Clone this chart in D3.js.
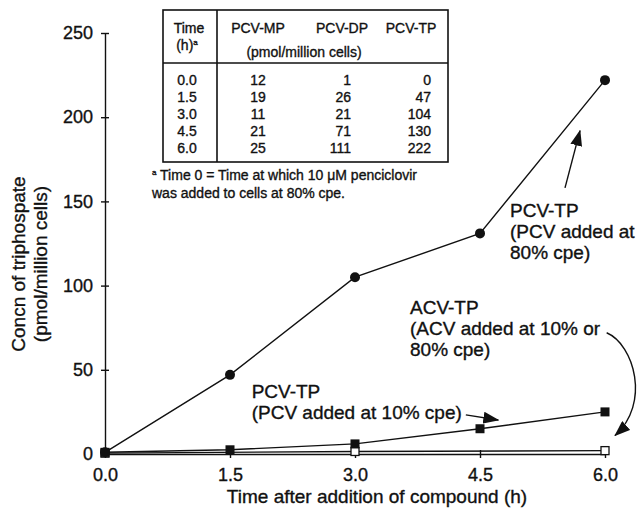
<!DOCTYPE html>
<head>
    <meta charset="utf-8">
    <title>Triphosphate concentration</title>
    <style>
      body { margin: 0; background: #fff; }
      text { font-family: "Liberation Sans", Arial, sans-serif; fill: #111; stroke: #111; stroke-width: 0.35px; }
    </style>
</head>

<script src="https://d3js.org/d3.v7.min.js"></script>

<div id="my_dataviz"></div>

<script>

    // values
    var times = [0, 1.5, 3.0, 4.5, 6.0];
    var pcvTp80 = [1, 47, 105, 131, 222];     // PCV added at 80% cpe (circles)
    var pcvTp10 = [1, 2.5, 6, 15, 25];        // PCV added at 10% cpe (filled squares)
    var acvTimes = [0, 3.0, 6.0];
    var acvTp = [0.5, 1.5, 2];                // ACV (open squares)

    var yTicks = [0, 50, 100, 150, 200, 250];
    var xTicks = [0, 1.5, 3.0, 4.5, 6.0];

    // inset table
    var tableTimes = ["0.0", "1.5", "3.0", "4.5", "6.0"];
    var pcvMP = [12, 19, 11, 21, 25];
    var pcvDP = [1, 26, 21, 71, 111];
    var pcvTP = [0, 47, 104, 130, 222];

    var W = 639, H = 514;

    var svg = d3.select("#my_dataviz")
      .append("svg")
      .attr("width", W)
      .attr("height", H);

    var x = d3.scaleLinear().domain([0, 6]).range([105, 605]);
    var y = d3.scaleLinear().domain([0, 250]).range([454, 33]);

    // arrow head
    svg.append("defs").append("marker")
        .attr("id", "head")
        .attr("viewBox", "0 0 16 12")
        .attr("refX", 15).attr("refY", 6)
        .attr("markerWidth", 16).attr("markerHeight", 12)
        .attr("markerUnits", "userSpaceOnUse")
        .attr("orient", "auto")
      .append("path")
        .attr("d", "M0,0 L16,6 L0,12 Z")
        .attr("fill", "#111");

    // axes
    var yAxis = svg.append("g")
        .attr("transform", "translate(" + x(0) + ",0)")
        .call(d3.axisLeft(y).tickValues(yTicks).tickSizeInner(4).tickSizeOuter(0).tickPadding(8));
    yAxis.selectAll(".tick line").attr("x1", 4);

    var xAxis = svg.append("g")
        .attr("transform", "translate(0," + y(0) + ")")
        .call(d3.axisBottom(x).tickValues(xTicks).tickFormat(d3.format(".1f"))
              .tickSizeInner(4).tickSizeOuter(0).tickPadding(10));
    xAxis.selectAll(".tick line").attr("y1", -4);

    svg.selectAll(".domain, .tick line").attr("stroke", "#111").attr("stroke-width", 1.4);
    svg.selectAll(".tick text").style("font-size", "18px").attr("fill", "#111");

    // axis titles
    svg.append("text")
        .attr("text-anchor", "middle")
        .attr("x", 377).attr("y", 503)
        .style("font-size", "19px")
        .text("Time after addition of compound (h)");

    var yt = svg.append("text")
        .attr("text-anchor", "middle")
        .attr("transform", "translate(25,264) rotate(-90)")
        .style("font-size", "19px");
    yt.append("tspan").attr("x", 0).attr("y", 0).text("Concn of triphospate");
    yt.append("tspan").attr("x", 0).attr("y", 22).text("(pmol/million cells)");

    // lines
    var line = d3.line()
        .x(function (d) { return x(d[0]); })
        .y(function (d) { return y(d[1]); });

    var acvData = d3.zip(acvTimes, acvTp);
    var pcv10Data = d3.zip(times, pcvTp10);
    var pcv80Data = d3.zip(times, pcvTp80);

    [acvData, pcv10Data, pcv80Data].forEach(function (s) {
      svg.append("path")
        .datum(s)
        .attr("d", line)
        .attr("fill", "none")
        .attr("stroke", "#111")
        .attr("stroke-width", 1.4);
    });

    // markers
    svg.append("g").selectAll("rect")
      .data(acvData)
      .enter().append("rect")
        .attr("x", function (d) { return x(d[0]) - 4; })
        .attr("y", function (d) { return y(d[1]) - 4; })
        .attr("width", 8).attr("height", 8)
        .attr("fill", "#fff").attr("stroke", "#111").attr("stroke-width", 1.3);

    svg.append("g").selectAll("rect")
      .data(pcv10Data)
      .enter().append("rect")
        .attr("x", function (d) { return x(d[0]) - 4.5; })
        .attr("y", function (d) { return y(d[1]) - 4.5; })
        .attr("width", 9).attr("height", 9)
        .attr("fill", "#111");

    svg.append("g").selectAll("circle")
      .data(pcv80Data)
      .enter().append("circle")
        .attr("cx", function (d) { return x(d[0]); })
        .attr("cy", function (d) { return y(d[1]); })
        .attr("r", 5)
        .attr("fill", "#111");

    // annotations
    function label(t, v, lines) {
      var el = svg.append("text")
        .attr("x", x(t)).attr("y", y(v))
        .style("font-size", "19px");
      lines.forEach(function (s, i) {
        el.append("tspan").attr("x", x(t)).attr("dy", i ? 21 : 0).text(s);
      });
    }
    label(4.86, 140.5, ["PCV-TP", "(PCV added at", "80% cpe)"]);
    label(3.66, 83, ["ACV-TP", "(ACV added at 10% or", "80% cpe)"]);
    label(1.76, 33, ["PCV-TP", "(PCV added at 10% cpe)"]);

    function arrow(d) {
      svg.append("path")
        .attr("d", d)
        .attr("fill", "none")
        .attr("stroke", "#111")
        .attr("stroke-width", 1.4)
        .attr("marker-end", "url(#head)");
    }
    arrow("M" + x(5.52) + "," + y(158) + "L" + x(5.70) + "," + y(192));
    arrow("M" + x(4.33) + "," + y(23.2) + "L" + x(4.72) + "," + y(20.2));
    arrow("M" + x(6.02) + "," + y(72) + "C" + x(6.35) + "," + y(65) + " " + x(6.55) + "," + y(30)
          + " " + x(6.12) + "," + y(11));

    // inset table
    var tb = svg.append("g");
    tb.append("rect")
        .attr("x", 163).attr("y", 10).attr("width", 285).attr("height", 152)
        .attr("fill", "#fff").attr("stroke", "#111").attr("stroke-width", 1.6);
    tb.append("line").attr("x1", 217).attr("x2", 217).attr("y1", 10).attr("y2", 162)
        .attr("stroke", "#111").attr("stroke-width", 1.6);
    tb.append("line").attr("x1", 163).attr("x2", 448).attr("y1", 63).attr("y2", 63)
        .attr("stroke", "#111").attr("stroke-width", 1.6);

    function cell(tx, ty, s, anchor) {
      return tb.append("text")
        .attr("x", tx).attr("y", ty)
        .attr("text-anchor", anchor || "middle")
        .style("font-size", "14px")
        .text(s);
    }
    cell(189, 33, "Time");
    var h = cell(187, 50, "(h)");
    h.append("tspan").attr("dy", -5).style("font-size", "8px").text("a");
    cell(258, 33, "PCV-MP");
    cell(342, 33, "PCV-DP");
    cell(411, 33, "PCV-TP");
    cell(304, 57, "(pmol/million cells)");

    tableTimes.forEach(function (t, i) {
      var ry = 85 + i * 17;
      cell(187, ry, t);
      cell(258, ry, pcvMP[i]);
      cell(351, ry, pcvDP[i], "end");
      cell(431, ry, pcvTP[i], "end");
    });

    var fn = svg.append("text").attr("x", 152).attr("y", 180).style("font-size", "14px");
    fn.append("tspan").attr("dy", -5).style("font-size", "8px").text("a");
    fn.append("tspan").attr("dy", 5).text(" Time 0 = Time at which 10 \u03bcM penciclovir");
    svg.append("text").attr("x", 152).attr("y", 198).style("font-size", "14px")
        .text("was added to cells at 80% cpe.");

</script>
